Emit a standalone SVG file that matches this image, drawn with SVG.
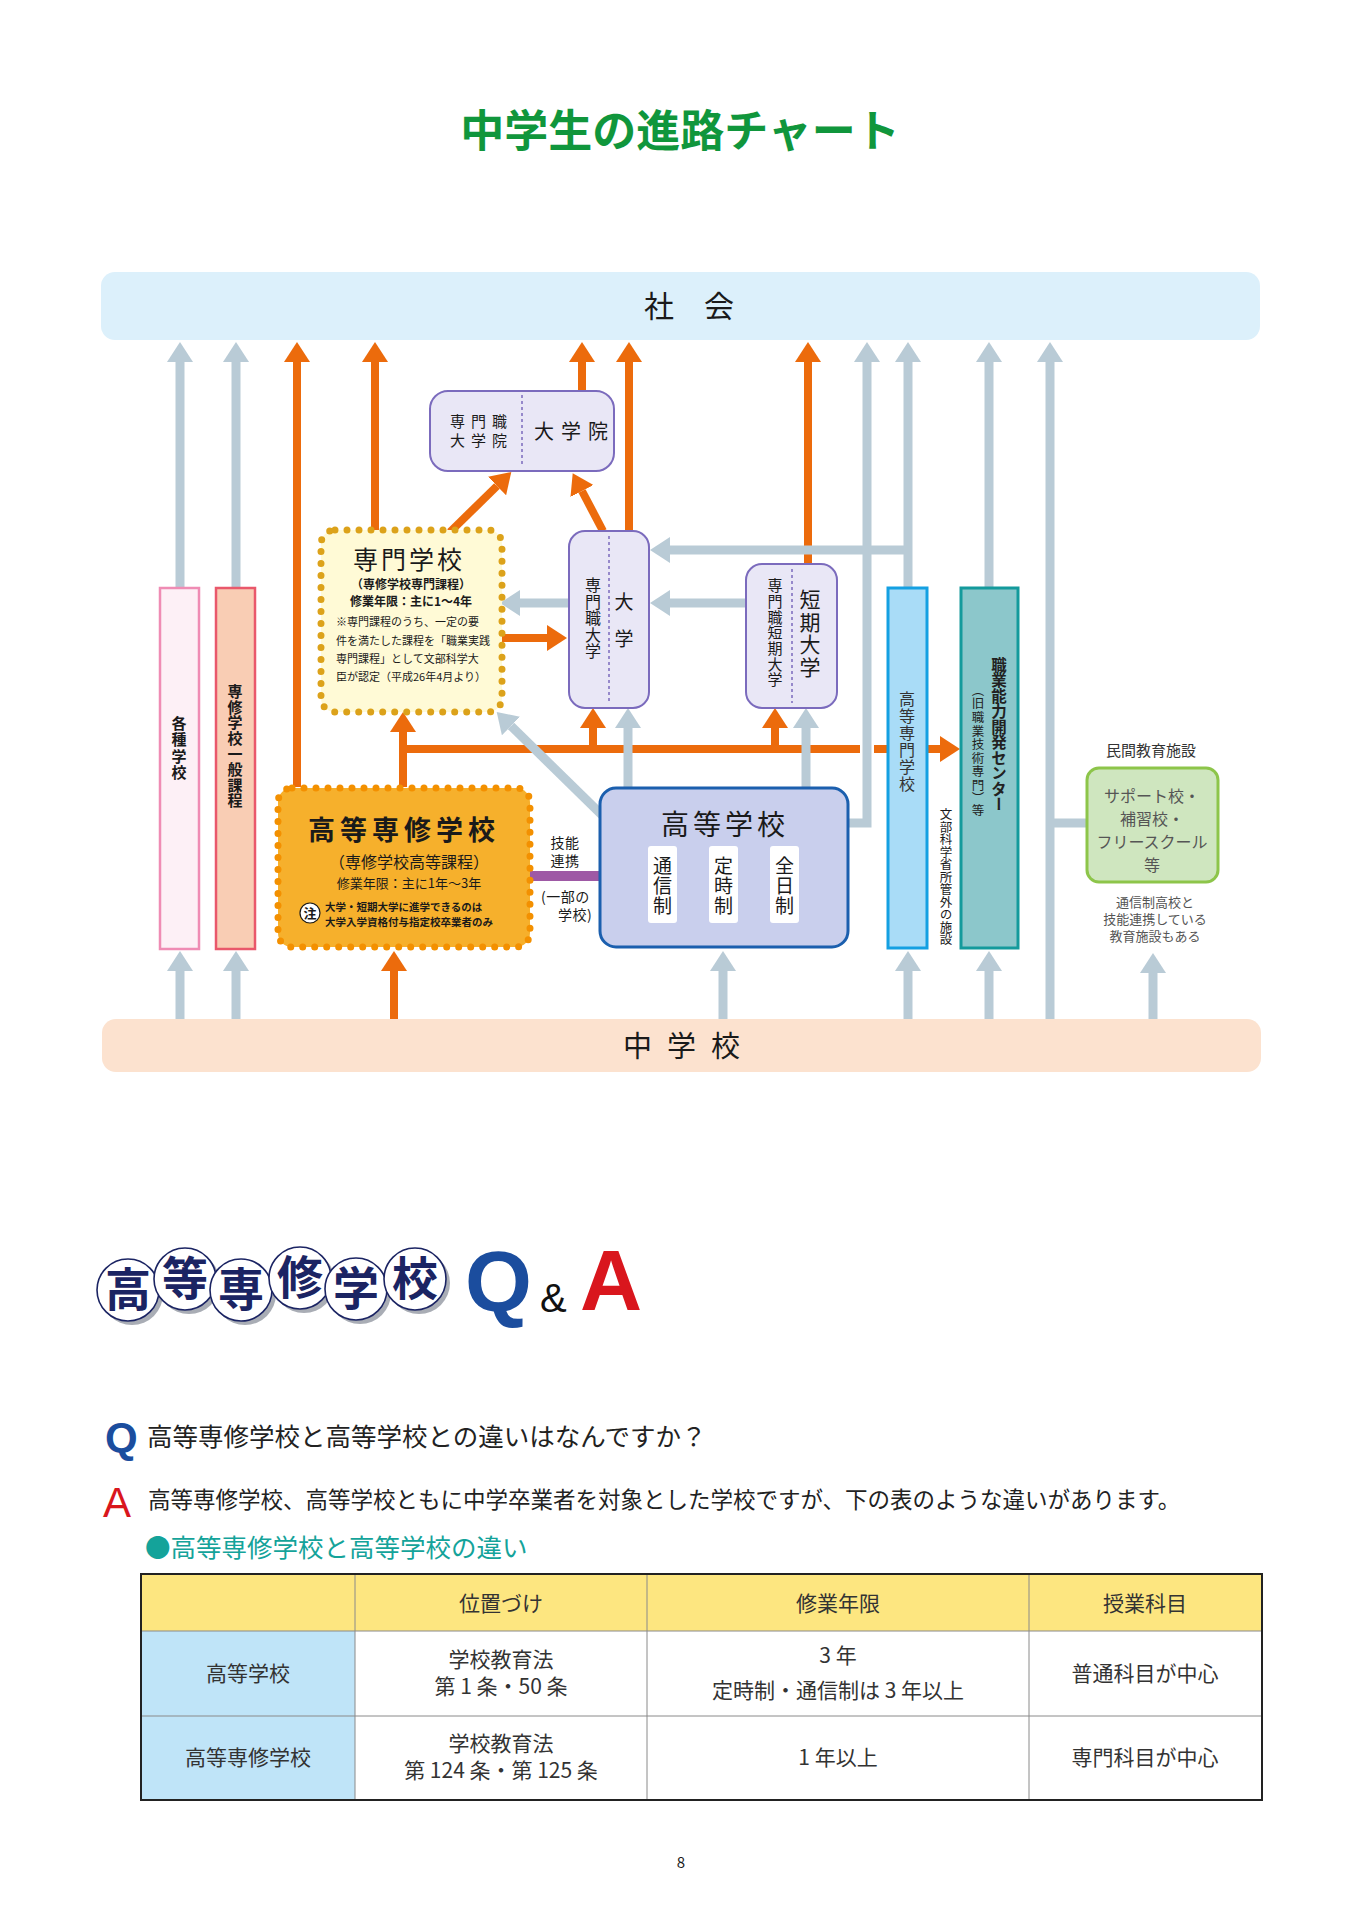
<svg xmlns="http://www.w3.org/2000/svg" width="1358" height="1920" viewBox="0 0 1358 1920">
<style>
text{font-family:"Noto Sans CJK JP","Noto Sans",sans-serif;fill:#1a1a1a}
.v{writing-mode:vertical-rl;text-orientation:upright}
.b{font-weight:bold}
.og{fill:none;stroke:#ec6b0c;stroke-width:8}
.gr{fill:none;stroke:#b9cbd6;stroke-width:9}
.uni{fill:#e9e7f6;stroke:#7b6bbd;stroke-width:2}
.div{stroke:#7b6bbd;stroke-width:1.5;stroke-dasharray:3 3}
.cell{fill:#ffffff}
.tt{font-size:21px;fill:#333;text-anchor:middle}
.circ{fill:#ffffff;stroke:#1b2463;stroke-width:1.6}
.shd{fill:#a9adb5}
.ct{font-size:46px;font-weight:bold;fill:#1b2463;text-anchor:middle}
</style>
<defs>
<marker id="ao" viewBox="0 0 20 26" refX="0" refY="13" markerWidth="20" markerHeight="26" markerUnits="userSpaceOnUse" orient="auto"><path d="M0,0 L20,13 L0,26 z" fill="#ec6b0c"/></marker>
<marker id="ag" viewBox="0 0 20 26" refX="0" refY="13" markerWidth="20" markerHeight="26" markerUnits="userSpaceOnUse" orient="auto"><path d="M0,0 L20,13 L0,26 z" fill="#b9cbd6"/></marker>
</defs>
<rect width="1358" height="1920" fill="#ffffff"/>
<text x="680" y="147" font-size="44" class="b" text-anchor="middle" style="fill:#10963c">中学生の進路チャート</text>

<g id="connectors">
<!-- orange -->
<path class="og" d="M297,787 V362" marker-end="url(#ao)"/>
<path class="og" d="M375,530 V362" marker-end="url(#ao)"/>
<path class="og" d="M582,391 V362" marker-end="url(#ao)"/>
<path class="og" d="M629,531 V362" marker-end="url(#ao)"/>
<path class="og" d="M808,563 V362" marker-end="url(#ao)"/>
<path class="og" d="M450,532 L497,486" marker-end="url(#ao)"/>
<path class="og" d="M603,531 L582,491" marker-end="url(#ao)"/>
<path class="og" d="M502,638 H547" marker-end="url(#ao)"/>
<path class="og" d="M403,787 V732" marker-end="url(#ao)"/>
<path class="og" d="M399,749 H940" marker-end="url(#ao)"/>
<path class="og" d="M593,749 V728" marker-end="url(#ao)"/>
<path class="og" d="M775,749 V728" marker-end="url(#ao)"/>
<path class="og" d="M394,1019 V971" marker-end="url(#ao)"/>
<!-- gray -->
<path class="gr" d="M180,587 V362" marker-end="url(#ag)"/>
<path class="gr" d="M236,587 V362" marker-end="url(#ag)"/>
<path d="M867,762 V736" stroke="#ffffff" stroke-width="14" fill="none"/>
<path class="gr" d="M848,823 H867 V362" marker-end="url(#ag)"/>
<path class="gr" d="M908,587 V362" marker-end="url(#ag)"/>
<path class="gr" d="M912,550 H670" marker-end="url(#ag)"/>
<path class="gr" d="M989,587 V362" marker-end="url(#ag)"/>
<path class="gr" d="M1050,1019 V362" marker-end="url(#ag)"/>
<path class="gr" d="M1050,823 H1087"/>
<path class="gr" d="M569,603 H520" marker-end="url(#ag)"/>
<path class="gr" d="M746,603 H670" marker-end="url(#ag)"/>
<path class="gr" d="M628,787 V728" marker-end="url(#ag)"/>
<path class="gr" d="M806,787 V728" marker-end="url(#ag)"/>
<path class="gr" d="M606,819 L511,726" marker-end="url(#ag)"/>
<path class="gr" d="M180,1019 V971" marker-end="url(#ag)"/>
<path class="gr" d="M236,1019 V971" marker-end="url(#ag)"/>
<path class="gr" d="M723,1019 V971" marker-end="url(#ag)"/>
<path class="gr" d="M908,1019 V971" marker-end="url(#ag)"/>
<path class="gr" d="M989,1019 V971" marker-end="url(#ag)"/>
<path class="gr" d="M1153,1019 V973" marker-end="url(#ag)"/>
<!-- purple link -->
<path d="M530,876 H648" stroke="#9e59a5" stroke-width="10" fill="none"/>
</g>

<g id="shakai">
<rect x="101" y="272" width="1159" height="68" rx="14" fill="#dcf0fb"/>
<text x="689" y="317" font-size="30" text-anchor="middle">社　会</text>
</g>
<g id="chugakko">
<rect x="102" y="1019" width="1159" height="53" rx="14" fill="#fce2cf"/>
<text x="623" y="1057" font-size="29" letter-spacing="15">中学校</text>
</g>

<g id="kakushu">
<rect x="160" y="588" width="39" height="361" fill="#fdf0f6" stroke="#ef8cb4" stroke-width="2.5"/>
<text class="v b" x="179" y="716" font-size="15" letter-spacing="1.3">各種学校</text>
</g>
<g id="senshu-ippan">
<rect x="216" y="588" width="39" height="361" fill="#f9cdb4" stroke="#e9586b" stroke-width="2.5"/>
<text class="v b" x="235" y="684" font-size="15" letter-spacing="0.6">専修学校一般課程</text>
</g>

<g id="senmon">
<rect x="321" y="530" width="181" height="182" rx="14" fill="#fffad6" stroke="#dca21a" stroke-width="7" stroke-linecap="round" stroke-dasharray="0 12"/>
<text x="409" y="569" font-size="25" letter-spacing="3" text-anchor="middle">専門学校</text>
<text x="411" y="589" font-size="12" class="b" text-anchor="middle">（専修学校専門課程）</text>
<text x="411" y="606" font-size="12" class="b" text-anchor="middle">修業年限：主に1～4年</text>
<text x="336" y="626" font-size="11">※専門課程のうち、一定の要</text>
<text x="336" y="645" font-size="11">件を満たした課程を「職業実践</text>
<text x="336" y="663" font-size="11">専門課程」として文部科学大</text>
<text x="336" y="681" font-size="11">臣が認定（平成26年4月より）</text>
</g>

<g id="koto-senshu">
<rect x="278" y="788" width="252" height="159" rx="14" fill="#f6b02c" stroke="#f39000" stroke-width="7" stroke-linecap="round" stroke-dasharray="0 12"/>
<text x="404" y="840" font-size="27" class="b" letter-spacing="5" text-anchor="middle">高等専修学校</text>
<text x="409" y="868" font-size="16" text-anchor="middle">（専修学校高等課程）</text>
<text x="409" y="888" font-size="13" text-anchor="middle">修業年限：主に1年～3年</text>
<circle cx="310" cy="913" r="10" fill="#ffffff" stroke="#1a1a1a" stroke-width="1.2"/>
<text x="310" y="918" font-size="13" class="b" text-anchor="middle">注</text>
<text x="325" y="911" font-size="10.5" class="b">大学・短期大学に進学できるのは</text>
<text x="325" y="926" font-size="10.5" class="b">大学入学資格付与指定校卒業者のみ</text>
</g>

<g id="gino-label">
<text x="565" y="848" font-size="14" letter-spacing="0.5" text-anchor="middle">技能<tspan x="565" dy="17.5">連携</tspan></text>
<text x="541" y="902" font-size="14" letter-spacing="0.5">(一部の<tspan x="558" dy="17.5">学校)</tspan></text>
</g>

<g id="daigakuin">
<rect x="430" y="391" width="184" height="80" rx="18" class="uni"/>
<line x1="522" y1="395" x2="522" y2="467" class="div"/>
<text x="450" y="427" font-size="15" letter-spacing="6">専門職<tspan x="450" dy="19">大学院</tspan></text>
<text x="534" y="439" font-size="20" letter-spacing="7">大学院</text>
</g>

<g id="daigaku">
<rect x="569" y="531" width="80" height="177" rx="16" class="uni"/>
<line x1="609" y1="536" x2="609" y2="703" class="div"/>
<text class="v" x="593" y="577" font-size="16" letter-spacing="0.6">専門職大学</text>
<text class="v" x="624" y="592" font-size="19" letter-spacing="18">大学</text>
</g>

<g id="tanki">
<rect x="746" y="564" width="91" height="144" rx="16" class="uni"/>
<line x1="792" y1="569" x2="792" y2="703" class="div"/>
<text class="v" x="775" y="578" font-size="15" letter-spacing="0.7">専門職短期大学</text>
<text class="v" x="810" y="589" font-size="21" letter-spacing="1.5">短期大学</text>
</g>

<g id="kotogakko">
<rect x="600" y="788" width="248" height="159" rx="16" fill="#c9cfed" stroke="#1b5fae" stroke-width="3"/>
<text x="725" y="835" font-size="28" letter-spacing="4" text-anchor="middle">高等学校</text>
<rect x="648" y="846" width="29" height="77" rx="3" class="cell"/>
<rect x="709" y="846" width="29" height="77" rx="3" class="cell"/>
<rect x="770" y="846" width="29" height="77" rx="3" class="cell"/>
<text class="v" x="662.5" y="856" font-size="19" letter-spacing="1">通信制</text>
<text class="v" x="723.5" y="856" font-size="19" letter-spacing="1">定時制</text>
<text class="v" x="784.5" y="856" font-size="19" letter-spacing="1">全日制</text>
</g>

<g id="kosen">
<rect x="888" y="588" width="39" height="360" fill="#a9dcf7" stroke="#14a0e2" stroke-width="3"/>
<text class="v" x="907" y="691" font-size="16" letter-spacing="1" style="fill:#333">高等専門学校</text>
</g>

<g id="monka-label">
<text class="v" x="946" y="808" font-size="12.5">文部科学省所管外の施設</text>
</g>

<g id="shokugyo">
<rect x="961" y="588" width="57" height="360" fill="#8cc7cb" stroke="#149a9c" stroke-width="3"/>
<text class="v b" x="999" y="657" font-size="15.5" style="fill:#222">職業能力開発センター</text>
<text class="v" x="978" y="684" font-size="12.5" style="fill:#222">（旧</text>
<text class="v" x="978" y="711" font-size="12.5" letter-spacing="1" style="fill:#222">職業技術専門）</text>
<text class="v" x="978" y="804" font-size="12.5" style="fill:#222">等</text>
</g>

<g id="minkan">
<text x="1151" y="756" font-size="15" text-anchor="middle" style="fill:#333">民間教育施設</text>
<rect x="1087" y="768" width="131" height="114" rx="12" fill="#cfe6bf" stroke="#8dc54a" stroke-width="3"/>
<text x="1152" y="802" font-size="16" text-anchor="middle" style="fill:#555">サポート校・<tspan x="1152" dy="23">補習校・</tspan><tspan x="1152" dy="23">フリースクール</tspan><tspan x="1152" dy="23">等</tspan></text>
<text x="1155" y="907" font-size="13" text-anchor="middle" style="fill:#555">通信制高校と<tspan x="1155" dy="17">技能連携している</tspan><tspan x="1155" dy="17">教育施設もある</tspan></text>
</g>

<!-- Q&A logo -->
<g id="qa-logo">
<circle cx="132" cy="1294" r="31" class="shd"/>
<circle cx="128" cy="1290" r="31" class="circ"/>
<text x="128" y="1306" class="ct">高</text>
<circle cx="189" cy="1283" r="31" class="shd"/>
<circle cx="185" cy="1279" r="31" class="circ"/>
<text x="185" y="1295" class="ct">等</text>
<circle cx="245" cy="1294" r="31" class="shd"/>
<circle cx="241" cy="1290" r="31" class="circ"/>
<text x="241" y="1306" class="ct">専</text>
<circle cx="304" cy="1282" r="31" class="shd"/>
<circle cx="300" cy="1278" r="31" class="circ"/>
<text x="300" y="1294" class="ct">修</text>
<circle cx="360" cy="1293" r="31" class="shd"/>
<circle cx="356" cy="1289" r="31" class="circ"/>
<text x="356" y="1305" class="ct">学</text>
<circle cx="419" cy="1283" r="31" class="shd"/>
<circle cx="415" cy="1279" r="31" class="circ"/>
<text x="415" y="1295" class="ct">校</text>
<text x="465" y="1311" font-size="86" style="font-family:'Liberation Sans',sans-serif;font-weight:bold;fill:#1b4d9e">Q</text>
<text x="540" y="1312" font-size="40" style="font-family:'Liberation Sans',sans-serif;fill:#111">&amp;</text>
<text x="580" y="1310" font-size="86" style="font-family:'Liberation Sans',sans-serif;font-weight:bold;fill:#d9161d">A</text>
</g>

<g id="qa-text">
<text x="105" y="1452" font-size="42" style="font-family:'Liberation Sans',sans-serif;font-weight:bold;fill:#1b4d9e">Q</text>
<text x="147" y="1446" font-size="25.5" style="fill:#222">高等専修学校と高等学校との違いはなんですか？</text>
<text x="103" y="1517" font-size="42" style="font-family:'Liberation Sans',sans-serif;fill:#d9161d">A</text>
<text x="148" y="1508" font-size="22.5" style="fill:#222">高等専修学校、高等学校ともに中学卒業者を対象とした学校ですが、下の表のような違いがあります。</text>
<text x="145" y="1557" font-size="25.5" style="fill:#14a39a">●高等専修学校と高等学校の違い</text>
</g>

<g id="table">
<rect x="141" y="1574" width="1121" height="57" fill="#fde680"/>
<rect x="141" y="1631" width="214" height="169" fill="#bfe4f8"/>
<line x1="141" y1="1631" x2="1262" y2="1631" stroke="#8a8a8a" stroke-width="1"/>
<line x1="141" y1="1716" x2="1262" y2="1716" stroke="#8a8a8a" stroke-width="1"/>
<line x1="355" y1="1574" x2="355" y2="1800" stroke="#8a8a8a" stroke-width="1"/>
<line x1="647" y1="1574" x2="647" y2="1800" stroke="#8a8a8a" stroke-width="1"/>
<line x1="1029" y1="1574" x2="1029" y2="1800" stroke="#8a8a8a" stroke-width="1"/>
<rect x="141" y="1574" width="1121" height="226" fill="none" stroke="#222" stroke-width="2"/>
<text x="501" y="1611" class="tt">位置づけ</text>
<text x="838" y="1611" class="tt">修業年限</text>
<text x="1145" y="1611" class="tt">授業科目</text>
<text x="248" y="1681" class="tt">高等学校</text>
<text x="501" y="1667" class="tt">学校教育法<tspan x="501" dy="27">第 1 条・50 条</tspan></text>
<text x="838" y="1663" class="tt">3 年<tspan x="838" dy="35">定時制・通信制は 3 年以上</tspan></text>
<text x="1145" y="1681" class="tt">普通科目が中心</text>
<text x="248" y="1765" class="tt">高等専修学校</text>
<text x="501" y="1751" class="tt">学校教育法<tspan x="501" dy="27">第 124 条・第 125 条</tspan></text>
<text x="838" y="1765" class="tt">1 年以上</text>
<text x="1145" y="1765" class="tt">専門科目が中心</text>
</g>

<text x="681" y="1868" font-size="15" text-anchor="middle">8</text>
</svg>
